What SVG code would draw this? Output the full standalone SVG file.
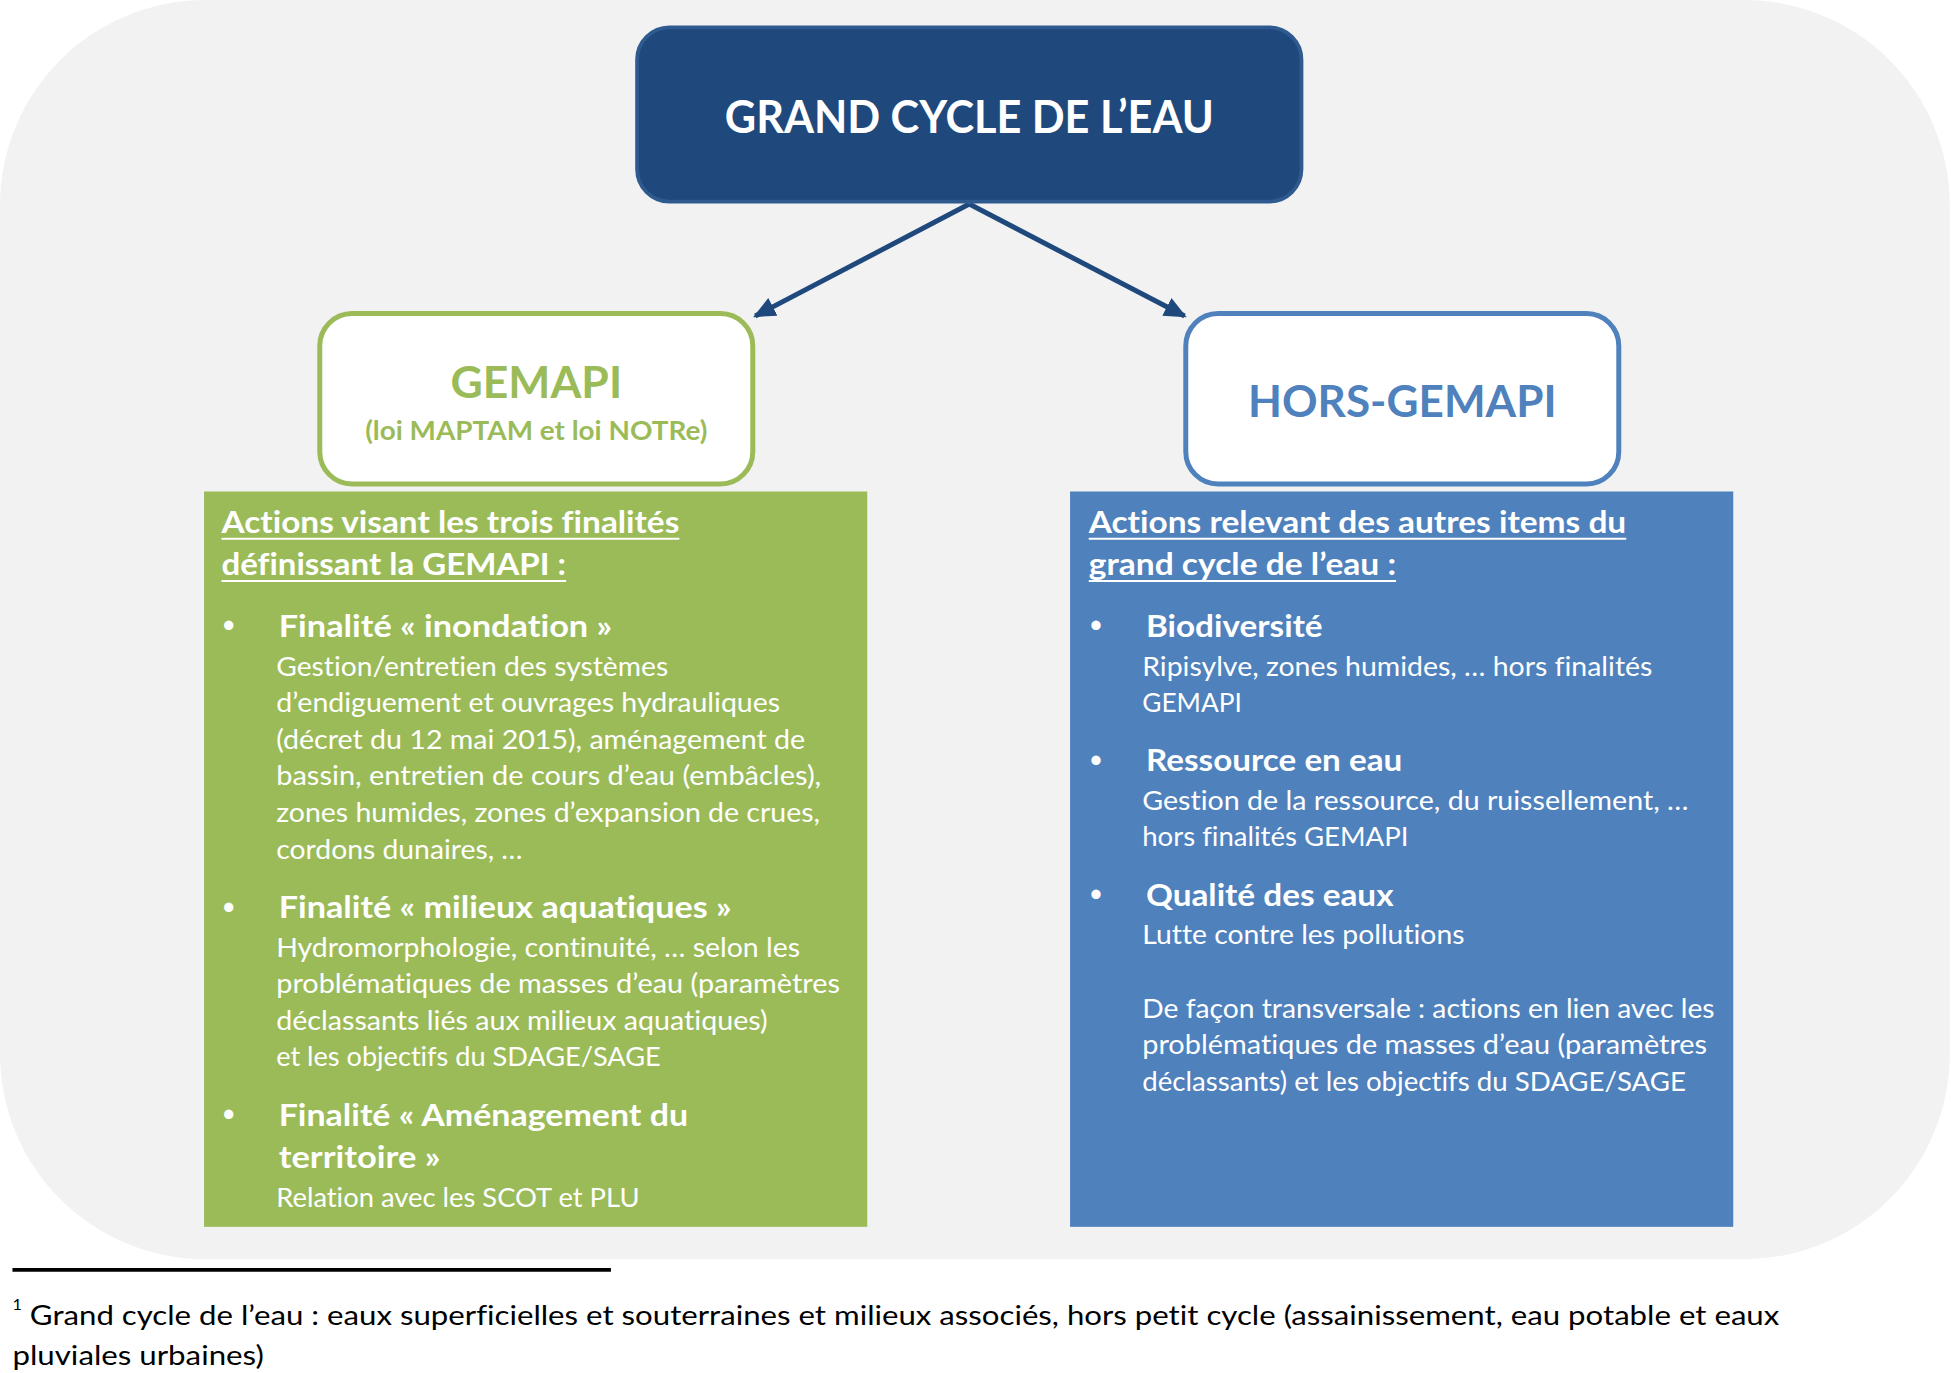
<svg xmlns="http://www.w3.org/2000/svg" width="1951" height="1373" viewBox="0 0 1951 1373">
<style>
text{font-family:Lato,"Open Sans","Liberation Sans",sans-serif;font-variant-ligatures:none;font-feature-settings:"liga" 0,"dlig" 0}
.hb{font-weight:bold;font-size:24px;fill:#ffffff}
.bd{font-size:21px;fill:#ffffff}
.ul{stroke:#ffffff;stroke-width:1.6}
.bul{font-size:20px;fill:#ffffff}
.fn{font-size:22px;fill:#000000}
</style>
<defs>
<marker id="ah" markerWidth="18" markerHeight="16" refX="16" refY="8" orient="auto" markerUnits="userSpaceOnUse">
<path d="M0,0 L18,8 L0,16 Z" fill="#1f497d"/>
</marker>
</defs>
<rect width="1951" height="1373" fill="#ffffff"/>
<g transform="scale(1.24426)">
<rect id="background" x="0" y="0" width="1567" height="1012" rx="165" ry="165" fill="#f2f2f2"/>

<g id="connectors" stroke="#1f497d" stroke-width="4" fill="none">
<line x1="779" y1="164" x2="607" y2="254" marker-end="url(#ah)"/>
<line x1="779" y1="164" x2="952" y2="254" marker-end="url(#ah)"/>
</g>

<g id="node-grand-cycle">
<rect x="512" y="22" width="534" height="140" rx="26" fill="#1f497d" stroke="#2e5a8f" stroke-width="3"/>
<text x="779" y="107" text-anchor="middle" font-weight="bold" font-size="37" fill="#ffffff" textLength="393" lengthAdjust="spacingAndGlyphs">GRAND CYCLE DE L’EAU</text>
</g>

<g id="node-gemapi">
<rect x="257" y="252" width="348" height="137" rx="26" fill="#ffffff" stroke="#9bbb59" stroke-width="4"/>
<text x="431" y="320" text-anchor="middle" font-weight="bold" font-size="35" fill="#9bbb59" textLength="138" lengthAdjust="spacingAndGlyphs">GEMAPI</text>
<text x="431" y="354" text-anchor="middle" font-weight="bold" font-size="21" fill="#9bbb59" textLength="275" lengthAdjust="spacingAndGlyphs">(loi MAPTAM et loi NOTRe)</text>
</g>

<g id="node-hors-gemapi">
<rect x="953" y="252" width="348" height="137" rx="26" fill="#ffffff" stroke="#4f81bd" stroke-width="4"/>
<text x="1127" y="335" text-anchor="middle" font-weight="bold" font-size="35" fill="#4f81bd" textLength="248" lengthAdjust="spacingAndGlyphs">HORS-GEMAPI</text>
</g>

<g id="panel-gemapi">
<rect x="164" y="395" width="533" height="591" fill="#9bbb59"/>
<text class="hb" x="178" y="428" textLength="368" lengthAdjust="spacingAndGlyphs">Actions visant les trois finalités</text>
<line class="ul" x1="178" y1="433" x2="546" y2="433"/>
<text class="hb" x="178" y="462" textLength="277" lengthAdjust="spacingAndGlyphs">définissant la GEMAPI :</text>
<line class="ul" x1="178" y1="467" x2="455" y2="467"/>

<text class="bul" x="178" y="509">•</text>
<text class="hb" x="224" y="512" textLength="268" lengthAdjust="spacingAndGlyphs">Finalité « inondation »</text>
<text class="bd" x="222" y="543" textLength="315" lengthAdjust="spacingAndGlyphs">Gestion/entretien des systèmes</text>
<text class="bd" x="222" y="572" textLength="405" lengthAdjust="spacingAndGlyphs">d’endiguement et ouvrages hydrauliques</text>
<text class="bd" x="222" y="602" textLength="425" lengthAdjust="spacingAndGlyphs">(décret du 12 mai 2015), aménagement de</text>
<text class="bd" x="222" y="631" textLength="438" lengthAdjust="spacingAndGlyphs">bassin, entretien de cours d’eau (embâcles),</text>
<text class="bd" x="222" y="661" textLength="437" lengthAdjust="spacingAndGlyphs">zones humides, zones d’expansion de crues,</text>
<text class="bd" x="222" y="690" textLength="198" lengthAdjust="spacingAndGlyphs">cordons dunaires, …</text>

<text class="bul" x="178" y="735">•</text>
<text class="hb" x="224" y="738" textLength="364" lengthAdjust="spacingAndGlyphs">Finalité « milieux aquatiques »</text>
<text class="bd" x="222" y="769" textLength="421" lengthAdjust="spacingAndGlyphs">Hydromorphologie, continuité, … selon les</text>
<text class="bd" x="222" y="798" textLength="453" lengthAdjust="spacingAndGlyphs">problématiques de masses d’eau (paramètres</text>
<text class="bd" x="222" y="828" textLength="395" lengthAdjust="spacingAndGlyphs">déclassants liés aux milieux aquatiques)</text>
<text class="bd" x="222" y="857" textLength="309" lengthAdjust="spacingAndGlyphs">et les objectifs du SDAGE/SAGE</text>

<text class="bul" x="178" y="902">•</text>
<text class="hb" x="224" y="905" textLength="329" lengthAdjust="spacingAndGlyphs">Finalité « Aménagement du</text>
<text class="hb" x="224" y="939" textLength="130" lengthAdjust="spacingAndGlyphs">territoire »</text>
<text class="bd" x="222" y="970" textLength="292" lengthAdjust="spacingAndGlyphs">Relation avec les SCOT et PLU</text>
</g>

<g id="panel-hors-gemapi">
<rect x="860" y="395" width="533" height="591" fill="#4f81bd"/>
<text class="hb" x="875" y="428" textLength="432" lengthAdjust="spacingAndGlyphs">Actions relevant des autres items du</text>
<line class="ul" x1="875" y1="433" x2="1307" y2="433"/>
<text class="hb" x="875" y="462" textLength="247" lengthAdjust="spacingAndGlyphs">grand cycle de l’eau :</text>
<line class="ul" x1="875" y1="467" x2="1122" y2="467"/>

<text class="bul" x="875" y="509">•</text>
<text class="hb" x="921" y="512" textLength="142" lengthAdjust="spacingAndGlyphs">Biodiversité</text>
<text class="bd" x="918" y="543" textLength="410" lengthAdjust="spacingAndGlyphs">Ripisylve, zones humides, … hors finalités</text>
<text class="bd" x="918" y="572" textLength="80" lengthAdjust="spacingAndGlyphs">GEMAPI</text>

<text class="bul" x="875" y="617">•</text>
<text class="hb" x="921" y="620" textLength="206" lengthAdjust="spacingAndGlyphs">Ressource en eau</text>
<text class="bd" x="918" y="651" textLength="439" lengthAdjust="spacingAndGlyphs">Gestion de la ressource, du ruissellement, …</text>
<text class="bd" x="918" y="680" textLength="214" lengthAdjust="spacingAndGlyphs">hors finalités GEMAPI</text>

<text class="bul" x="875" y="725">•</text>
<text class="hb" x="921" y="728" textLength="199" lengthAdjust="spacingAndGlyphs">Qualité des eaux</text>
<text class="bd" x="918" y="759" textLength="259" lengthAdjust="spacingAndGlyphs">Lutte contre les pollutions</text>

<text class="bd" x="918" y="818" textLength="460" lengthAdjust="spacingAndGlyphs">De façon transversale : actions en lien avec les</text>
<text class="bd" x="918" y="847" textLength="454" lengthAdjust="spacingAndGlyphs">problématiques de masses d’eau (paramètres</text>
<text class="bd" x="918" y="877" textLength="437" lengthAdjust="spacingAndGlyphs">déclassants) et les objectifs du SDAGE/SAGE</text>
</g>

<g id="footnote">
<line x1="10" y1="1020.5" x2="491" y2="1020.5" stroke="#000000" stroke-width="3"/>
<text x="10" y="1053" font-size="13" fill="#000000">1</text>
<text class="fn" x="24" y="1065" textLength="1406" lengthAdjust="spacingAndGlyphs">Grand cycle de l’eau : eaux superficielles et souterraines et milieux associés, hors petit cycle (assainissement, eau potable et eaux</text>
<text class="fn" x="10" y="1097" textLength="202" lengthAdjust="spacingAndGlyphs">pluviales urbaines)</text>
</g>
</g>
</svg>
